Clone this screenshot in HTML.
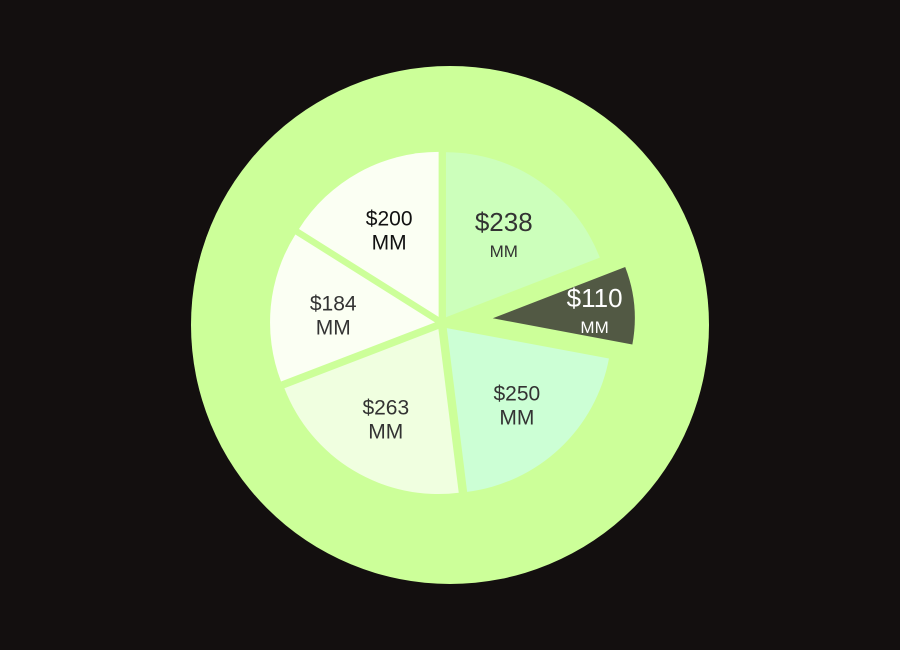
<!DOCTYPE html>
<html><head><meta charset="utf-8"><style>
html,body{margin:0;padding:0;background:#130f0f;}
svg{display:block;font-family:"Liberation Sans",sans-serif;}
</style></head><body>
<svg width="900" height="650" viewBox="0 0 900 650">
<rect width="900" height="650" fill="#130f0f"/>
<circle cx="450" cy="325" r="259" fill="#ccff99"/>
<g id="slices"></g>
</svg>
<script>
const labels = ["$238","$110","$250","$263","$184","$200"];
const values = [238,110,250,263,184,200];
const colors = ["#ccffbb","#525944","#ccffd5","#f0ffe0","#fbfff3","#fbfff3"];
const explode = [7,51,7,7,7,7];
const radii = [165,142,165,165,165,165];
const big = [true,true,false,false,false,false];
const textColors = ["#333","#fff","#333","#333","#333","#111"];
const cx=442, cy=323;
const total = values.reduce((a,b)=>a+b,0);
const g = document.getElementById('slices');
const NS='http://www.w3.org/2000/svg';
let a0=0;
function pt(x,y,r,a){return [x+r*Math.sin(a), y-r*Math.cos(a)];}
values.forEach((v,i)=>{
  const span = v/total*2*Math.PI;
  const a1 = a0+span, mid=a0+span/2;
  const [ox,oy]=pt(cx,cy,explode[i],mid);
  const r=radii[i];
  const p0=pt(ox,oy,r,a0), p1=pt(ox,oy,r,a1);
  const path=document.createElementNS(NS,'path');
  path.setAttribute('d',`M${ox},${oy} L${p0[0]},${p0[1]} A${r},${r} 0 ${span>Math.PI?1:0} 1 ${p1[0]},${p1[1]} Z`);
  path.setAttribute('fill',colors[i]);
  
  
  g.appendChild(path);
  const lr = i===1 ? r*0.72 : r*0.62;
  const [lx,ly]=pt(ox,oy,lr,mid);
  const t=document.createElementNS(NS,'text');
  t.setAttribute('text-anchor','middle');
  t.setAttribute('fill',textColors[i]);
  
  
  const s1=document.createElementNS(NS,'tspan');
  s1.setAttribute('x',lx); s1.setAttribute('y',ly-2);
  s1.setAttribute('font-size', big[i]?26:21);
  s1.textContent=labels[i];
  const s2=document.createElementNS(NS,'tspan');
  s2.setAttribute('x',lx); s2.setAttribute('y',ly+(big[i]?24:22));
  s2.setAttribute('font-size', big[i]?17:21);
  s2.textContent='MM';
  t.appendChild(s1); t.appendChild(s2);
  g.appendChild(t);
  a0=a1;
});
</script>
</body></html>
